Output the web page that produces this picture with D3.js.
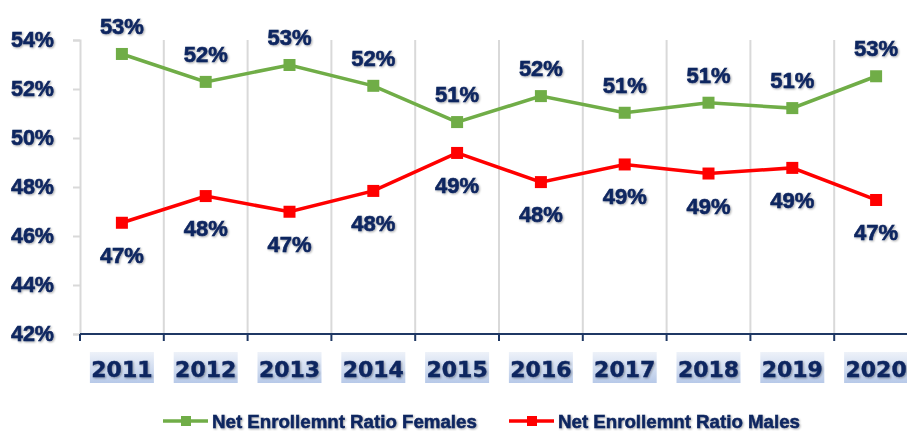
<!DOCTYPE html>
<html>
<head>
<meta charset="utf-8">
<script src="https://cdnjs.cloudflare.com/ajax/libs/d3/7.8.5/d3.min.js"></script>
<style>
  body { margin: 0; background: #fff; }
  svg { display: block; }
</style>
</head>
<body>
<div id="chart"></div>
<script>
// chart data
var years = ["2011", "2012", "2013", "2014", "2015", "2016", "2017", "2018", "2019", "2020"];
var females = [53.43, 52.29, 52.98, 52.13, 50.65, 51.71, 51.03, 51.44, 51.22, 52.52];
var males = [46.54, 47.63, 46.99, 47.84, 49.39, 48.20, 48.92, 48.55, 48.78, 47.47];
var yTicks = [42, 44, 46, 48, 50, 52, 54];
var seriesNames = ["Net Enrollemnt Ratio Females", "Net Enrollemnt Ratio Males"];

var svgWidth = 907;
var svgHeight = 431;
var navy = "#0f2660";

var svg = d3.select("#chart")
  .append("svg")
  .attr("width", svgWidth)
  .attr("height", svgHeight);

var defs = svg.append("defs");
var grad = defs.append("linearGradient")
  .attr("id", "labelBg")
  .attr("x1", 0).attr("y1", 0).attr("x2", 0).attr("y2", 1);
grad.append("stop").attr("offset", "0%").attr("stop-color", "#eef2f9");
grad.append("stop").attr("offset", "100%").attr("stop-color", "#b7c9e8");

var glow = defs.append("filter").attr("id", "glow")
  .attr("x", "-10%").attr("y", "-10%").attr("width", "120%").attr("height", "130%");
glow.append("feGaussianBlur").attr("in", "SourceAlpha").attr("stdDeviation", 0.8).attr("result", "b");
glow.append("feOffset").attr("in", "b").attr("dx", 0.5).attr("dy", 0.8).attr("result", "o");
glow.append("feComponentTransfer").attr("in", "o").attr("result", "s")
  .append("feFuncA").attr("type", "linear").attr("slope", 0.35);
var merge = glow.append("feMerge");
merge.append("feMergeNode").attr("in", "s");
merge.append("feMergeNode").attr("in", "SourceGraphic");

var xScale = d3.scaleBand()
  .domain(years)
  .range([80, 918]);

var yScale = d3.scaleLinear()
  .domain([42, 54])
  .range([334, 40]);

var cx = d => xScale(d) + xScale.bandwidth() / 2;

// vertical gridlines at category edges
var edges = years.map(d => xScale(d)).concat([xScale(years[years.length - 1]) + xScale.bandwidth()]);
svg.append("g")
  .selectAll("line")
  .data(edges.slice(1))
  .enter()
  .append("line")
  .attr("x1", d => d).attr("x2", d => d)
  .attr("y1", yScale(54)).attr("y2", yScale(42))
  .attr("stroke", "#d9d9d9")
  .attr("stroke-width", 2);

// y axis
var leftAxis = d3.axisLeft(yScale)
  .tickValues(yTicks)
  .tickSize(7)
  .tickPadding(19)
  .tickFormat(d => d + "%");

var yAxisG = svg.append("g")
  .attr("transform", "translate(80,0)")
  .call(leftAxis);
yAxisG.select(".domain").attr("stroke", "#d9d9d9").attr("stroke-width", 2);
yAxisG.selectAll(".tick line").attr("stroke", "#d9d9d9").attr("stroke-width", 2);
yAxisG.selectAll(".tick text")
  .attr("fill", navy)
  .attr("stroke", navy)
  .attr("stroke-width", 0.6)
  .attr("font-family", "Liberation Sans, Arial, sans-serif")
  .attr("font-weight", "bold")
  .attr("font-size", 21.5)
  .attr("filter", "url(#glow)");

// x axis line and ticks
svg.append("line")
  .attr("x1", 80).attr("x2", svgWidth)
  .attr("y1", yScale(42)).attr("y2", yScale(42))
  .attr("stroke", "#1f3864")
  .attr("stroke-width", 2);

svg.append("g")
  .selectAll("line")
  .data(edges)
  .enter()
  .append("line")
  .attr("x1", d => d).attr("x2", d => d)
  .attr("y1", yScale(42)).attr("y2", yScale(42) + 7)
  .attr("stroke", "#1f3864")
  .attr("stroke-width", 2);

// x labels with shaded box
var xLab = svg.append("g")
  .selectAll("g")
  .data(years)
  .enter()
  .append("g")
  .attr("transform", d => `translate(${cx(d)}, 0)`);

xLab.append("rect")
  .attr("x", -32).attr("y", 352)
  .attr("width", 64).attr("height", 31)
  .attr("fill", "url(#labelBg)");

xLab.append("text")
  .attr("text-anchor", "middle")
  .attr("y", 377)
  .attr("fill", navy)
  .attr("stroke", navy)
  .attr("stroke-width", 0.4)
  .attr("font-family", "DejaVu Sans, sans-serif")
  .attr("font-weight", "bold")
  .attr("font-size", 22)
  .attr("filter", "url(#glow)")
  .text(d => d);

var line = d3.line()
  .x((d, i) => cx(years[i]))
  .y(d => yScale(d));

function drawSeries(values, color, labelDy) {
  var g = svg.append("g");
  g.append("path")
    .datum(values)
    .attr("d", line)
    .attr("fill", "none")
    .attr("stroke", color)
    .attr("stroke-width", 3.5);

  g.selectAll("rect")
    .data(values)
    .enter()
    .append("rect")
    .attr("x", (d, i) => cx(years[i]) - 6)
    .attr("y", d => yScale(d) - 6)
    .attr("width", 12)
    .attr("height", 12)
    .attr("fill", color);

  g.selectAll("text")
    .data(values)
    .enter()
    .append("text")
    .attr("x", (d, i) => cx(years[i]))
    .attr("y", d => yScale(d) + labelDy)
    .attr("text-anchor", "middle")
    .attr("fill", navy)
    .attr("stroke", navy)
    .attr("stroke-width", 0.6)
    .attr("font-family", "Liberation Sans, Arial, sans-serif")
    .attr("font-weight", "bold")
    .attr("font-size", 22)
    .attr("filter", "url(#glow)")
    .text(d => Math.round(d) + "%");
}

drawSeries(females, "#70ad47", -20);
drawSeries(males, "#ff0000", 40);

// legend
var legendItems = [
  { name: seriesNames[0], color: "#70ad47", x: 163 },
  { name: seriesNames[1], color: "#ff0000", x: 509 }
];

var legend = svg.append("g")
  .selectAll("g")
  .data(legendItems)
  .enter()
  .append("g")
  .attr("transform", d => `translate(${d.x}, 421)`);

legend.append("line")
  .attr("x1", 0).attr("x2", 45)
  .attr("stroke", d => d.color)
  .attr("stroke-width", 3.5);

legend.append("rect")
  .attr("x", 18).attr("y", -5)
  .attr("width", 10).attr("height", 10)
  .attr("fill", d => d.color);

legend.append("text")
  .attr("x", 49)
  .attr("y", 6.5)
  .attr("fill", navy)
  .attr("stroke", navy)
  .attr("stroke-width", 0.5)
  .attr("font-family", "Liberation Sans, Arial, sans-serif")
  .attr("font-weight", "bold")
  .attr("font-size", 18.7)
  .attr("filter", "url(#glow)")
  .text(d => d.name);
</script>
</body>
</html>
